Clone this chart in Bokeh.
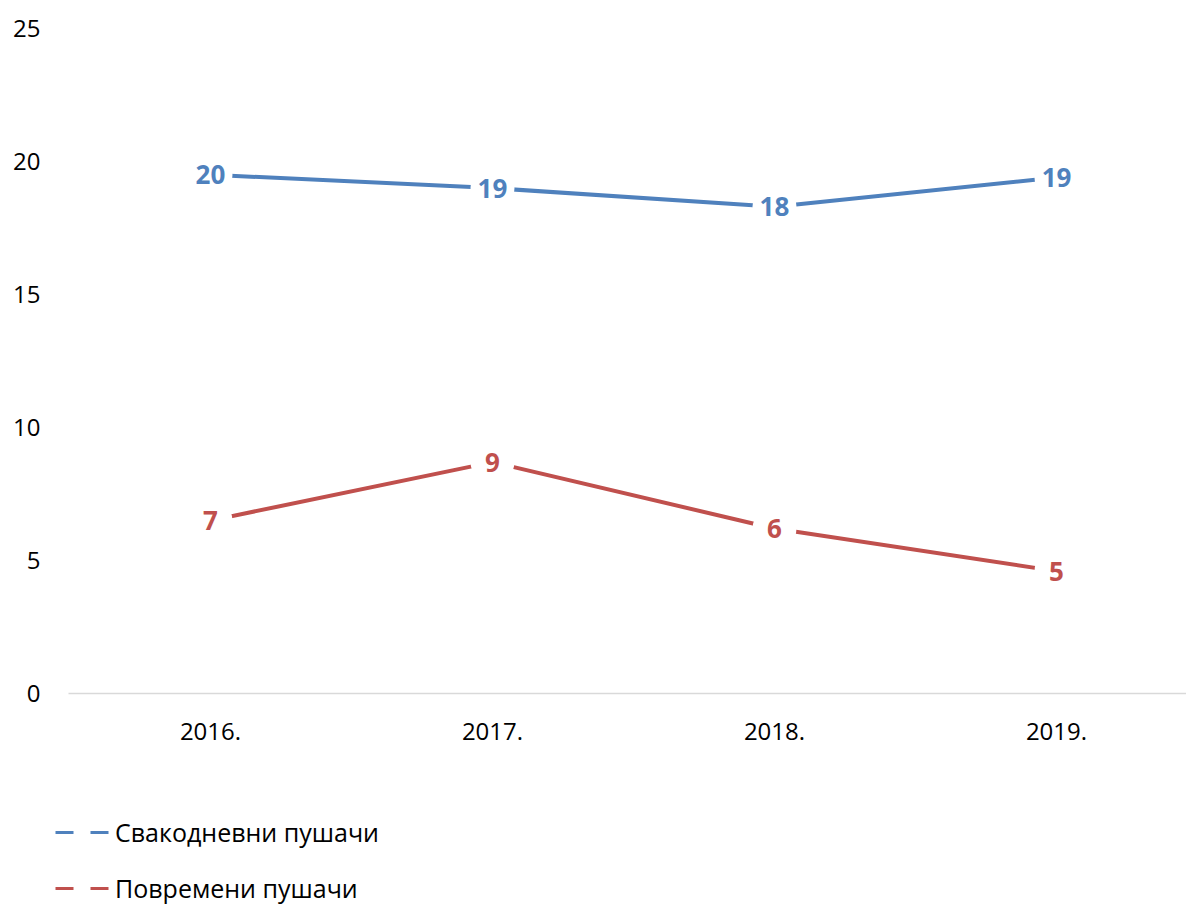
from bokeh.plotting import figure
from bokeh.models import Range1d, Legend, LegendItem, ColumnDataSource, FixedTicker
from bokeh.core.properties import value
from bokeh.embed import file_html
from bokeh.resources import INLINE

years = ["2016.", "2017.", "2018.", "2019."]
daily = [19.5, 19.0, 18.3, 19.4]
occasional = [6.5, 8.7, 6.2, 4.6]
series_names = ["Свакодневни пушачи", "Повремени пушачи"]
y_ticks = [0, 5, 10, 15, 20, 25]

BLUE = "#4F81BD"
RED = "#C0504D"
FONT = "Open Sans"

xs = list(range(len(years)))

p = figure(width=1186, height=904, output_backend="svg", toolbar_location=None,
           x_range=Range1d(-0.585, 3.461), y_range=Range1d(-7.932, 25),
           min_border_left=45, min_border_right=0, min_border_top=28, min_border_bottom=0)
p.outline_line_color = None
p.background_fill_color = "white"
p.border_fill_color = "white"
p.xgrid.grid_line_color = None
p.ygrid.grid_line_color = None

# x axis drawn at y = 0 inside the frame
p.xaxis.fixed_location = 0
p.xaxis.bounds = (-0.5035, 3.461)
p.xaxis.ticker = FixedTicker(ticks=xs)
p.xaxis.major_label_overrides = {i: y for i, y in enumerate(years)}
p.xaxis.axis_line_color = "#D9D9D9"
p.xaxis.axis_line_width = 1.5
p.xaxis.major_tick_line_color = None
p.xaxis.minor_tick_line_color = None
p.xaxis.major_tick_out = 0
p.xaxis.major_tick_in = 0
p.xaxis.major_label_standoff = 29
p.xaxis.major_label_text_font = FONT
p.xaxis.major_label_text_font_size = "24px"
p.xaxis.major_label_text_color = "#000000"

p.yaxis.ticker = FixedTicker(ticks=y_ticks)
p.yaxis.axis_line_color = None
p.yaxis.major_tick_line_color = None
p.yaxis.minor_tick_line_color = None
p.yaxis.major_tick_out = 0
p.yaxis.major_tick_in = 0
p.yaxis.major_label_standoff = 5
p.yaxis.major_label_text_font = FONT
p.yaxis.major_label_text_font_size = "24px"
p.yaxis.major_label_text_color = "#000000"

src_d = ColumnDataSource(dict(x=xs, y=daily, t=[str(int(v + 0.5)) for v in daily]))
src_o = ColumnDataSource(dict(x=xs, y=occasional, t=[str(int(v + 0.5)) for v in occasional]))

legend_renderers = []
for src, col in ((src_d, BLUE), (src_o, RED)):
    p.line("x", "y", source=src, line_color=col, line_width=4)
    p.scatter("x", "y", source=src, size=44, fill_color="white", line_color=None)
    p.text("x", "y", text="t", source=src, text_color=col, text_font=value(FONT),
           text_font_style="bold", text_font_size="26px", text_align="center",
           text_baseline="middle")
    # hidden dashed copy, used only for the legend glyph
    legend_renderers.append(p.line("x", "y", source=src, line_color=col, line_width=3,
                                   line_dash="18 17", visible=False))

legend = Legend(items=[LegendItem(label=series_names[0], renderers=[legend_renderers[0]]),
                       LegendItem(label=series_names[1], renderers=[legend_renderers[1]])],
                location=(10, -1), orientation="vertical",
                glyph_width=55, glyph_height=30, label_height=30, spacing=22,
                label_standoff=5, padding=0, margin=0,
                label_text_font=FONT, label_text_font_size="25px",
                label_text_color="#000000",
                inactive_fill_alpha=0,
                background_fill_alpha=0, border_line_color=None)
p.add_layout(legend, "center")

open("out.html", "w").write(file_html(p, INLINE))
